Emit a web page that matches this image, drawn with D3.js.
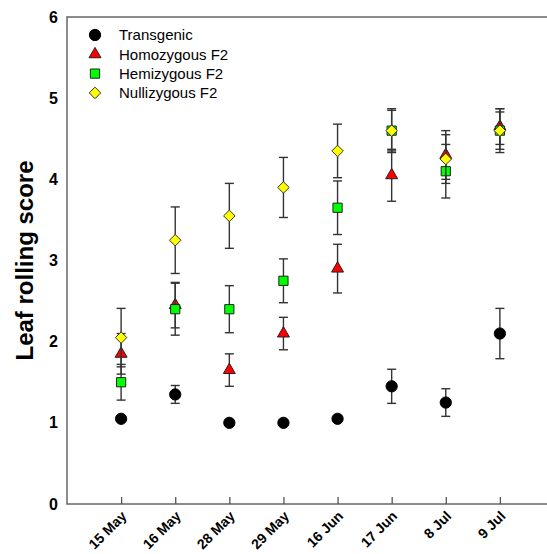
<!DOCTYPE html>
<html>
<head>
<meta charset="utf-8">
<script src="https://cdn.jsdelivr.net/npm/d3@7"></script>
<style>
  body { margin: 0; background: #fff; }
  svg { font-family: Arial, 'Liberation Sans', sans-serif; }
</style>
</head>
<body>
<svg id="chart" width="547" height="554"></svg>
<script>
const dates = ['15 May', '16 May', '28 May', '29 May', '16 Jun', '17 Jun', '8 Jul', '9 Jul']
const yTicks = [0, 1, 2, 3, 4, 5, 6]

const transgenic = [1.05, 1.35, 1.0, 1.0, 1.05, 1.45, 1.25, 2.1]
const transgenicErr = [0.03, 0.11, 0.02, 0.02, 0.03, 0.21, 0.17, 0.31]
const homozygous = [1.85, 2.45, 1.65, 2.1, 2.9, 4.05, 4.3, 4.65]
const homozygousErr = [0.25, 0.28, 0.2, 0.2, 0.3, 0.32, 0.3, 0.22]
const hemizygous = [1.5, 2.4, 2.4, 2.75, 3.65, 4.6, 4.1, 4.6]
const hemizygousErr = [0.22, 0.32, 0.29, 0.27, 0.33, 0.25, 0.33, 0.23]
const nullizygous = [2.05, 3.25, 3.55, 3.9, 4.35, 4.6, 4.25, 4.6]
const nullizygousErr = [0.36, 0.41, 0.4, 0.37, 0.33, 0.27, 0.3, 0.27]

// square turned 45 degrees, equal width and height
const symbolRhomb = {
  draw(ctx, size) {
    const r = Math.sqrt(size / 2)
    ctx.moveTo(0, -r)
    ctx.lineTo(r, 0)
    ctx.lineTo(0, r)
    ctx.lineTo(-r, 0)
    ctx.closePath()
  }
}

const series = [
  {name: 'Transgenic', values: transgenic, err: transgenicErr, shape: d3.symbolCircle, size: 100, fill: '#000', stroke: '#000'},
  {name: 'Homozygous F2', values: homozygous, err: homozygousErr, shape: d3.symbolTriangle, size: 62, fill: '#ff0000', stroke: '#222'},
  {name: 'Hemizygous F2', values: hemizygous, err: hemizygousErr, shape: d3.symbolSquare, size: 85, fill: '#00ff00', stroke: '#222'},
  {name: 'Nullizygous F2', values: nullizygous, err: nullizygousErr, shape: symbolRhomb, size: 66, fill: '#ffff00', stroke: '#333'}
]

const margin = {top: 17, left: 67}
const plotW = 487
const plotH = 487

const svg = d3.select('#chart')
const g = svg.append('g').attr('transform', `translate(${margin.left},${margin.top})`)

// categories sit at 1..8 on a 0..9 axis
const x = d3.scaleLinear().domain([0, dates.length + 1]).range([0, plotW])
const y = d3.scaleLinear().domain([0, 6]).range([plotH, 0])

// frame
g.append('rect')
  .attr('width', plotW).attr('height', plotH)
  .attr('fill', 'none').attr('stroke', '#666').attr('stroke-width', 1.5)

// y axis labels
const yAxis = g.append('g').call(d3.axisLeft(y).tickValues(yTicks).tickFormat(d3.format('d')).tickSize(0).tickPadding(9))
yAxis.select('.domain').remove()
yAxis.selectAll('text').attr('font-size', 16).attr('font-weight', 'bold').attr('fill', '#000')
  .attr('font-family', 'Arial, Liberation Sans, sans-serif')

// x axis: inward ticks + rotated labels
const xAxis = g.append('g').attr('transform', `translate(0,${plotH})`)
  .call(d3.axisBottom(x).tickValues(d3.range(1, dates.length + 1)).tickFormat(i => dates[i - 1]).tickSizeInner(-7).tickSizeOuter(0))
xAxis.select('.domain').remove()
xAxis.selectAll('line').attr('stroke', '#555').attr('stroke-width', 1.3)
xAxis.selectAll('text')
  .attr('font-size', 14).attr('font-weight', 'bold').attr('fill', '#000')
  .attr('font-family', 'Arial, Liberation Sans, sans-serif')
  .attr('text-anchor', 'end')
  .attr('dy', 0).attr('y', 0)
  .attr('transform', 'translate(6,13) rotate(-45)')

// y title
svg.append('text')
  .attr('transform', `translate(33,${margin.top + plotH / 2}) rotate(-90)`)
  .attr('text-anchor', 'middle')
  .attr('font-size', 24).attr('font-weight', 'bold')
  .text('Leaf rolling score')

// series
series.forEach(s => {
  const sg = g.append('g')
  const pts = s.values.map((v, i) => ({i: i + 1, v, e: s.err[i]}))
  const bars = sg.selectAll('g.bar').data(pts.filter(d => d.e > 0.04)).join('g').attr('class', 'bar')
    .attr('stroke', '#333').attr('stroke-width', 1.4)
  bars.append('line')
    .attr('x1', d => x(d.i)).attr('x2', d => x(d.i))
    .attr('y1', d => y(d.v + d.e)).attr('y2', d => y(d.v - d.e))
  bars.append('line')
    .attr('x1', d => x(d.i) - 4.5).attr('x2', d => x(d.i) + 4.5)
    .attr('y1', d => y(d.v + d.e)).attr('y2', d => y(d.v + d.e))
  bars.append('line')
    .attr('x1', d => x(d.i) - 4.5).attr('x2', d => x(d.i) + 4.5)
    .attr('y1', d => y(d.v - d.e)).attr('y2', d => y(d.v - d.e))

  sg.selectAll('path.pt').data(pts).join('path').attr('class', 'pt')
    .attr('d', d3.symbol().type(s.shape).size(s.size))
    .attr('transform', d => `translate(${x(d.i)},${y(d.v)})`)
    .attr('fill', s.fill).attr('stroke', s.stroke).attr('stroke-width', 1)
})

// legend
const legend = svg.append('g').attr('transform', 'translate(95,35)')
series.forEach((s, k) => {
  const row = legend.append('g').attr('transform', `translate(0,${k * 19.3})`)
  row.append('path')
    .attr('d', d3.symbol().type(s.shape).size(s.size))
    .attr('fill', s.fill).attr('stroke', s.stroke).attr('stroke-width', 1)
  row.append('text').attr('x', 24).attr('dy', '0.35em')
    .attr('font-size', 15).text(s.name)
})
</script>
</body>
</html>
